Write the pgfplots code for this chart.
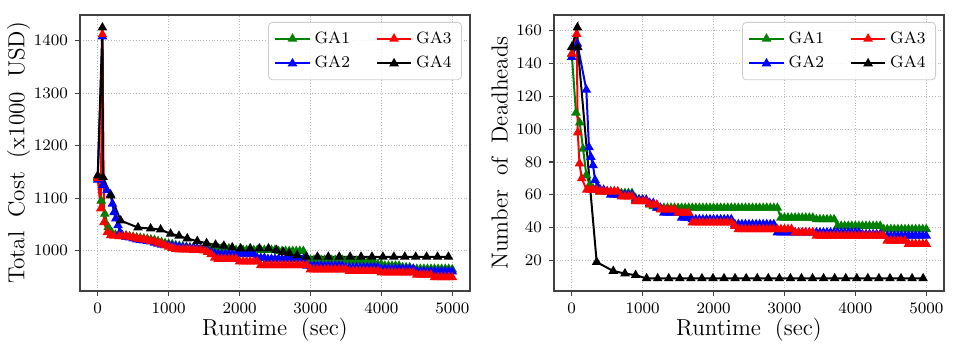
\documentclass[border=0pt]{standalone}
\usepackage{pgfplots}
\usepackage{pgfplotstable}
\pgfplotsset{compat=1.18}

\definecolor{gagreen}{RGB}{0,128,0}
\definecolor{gablue}{RGB}{0,0,255}
\definecolor{gared}{RGB}{255,0,0}

% GA1-GA3 from 400 s on (a=GA1, b=GA2, c=GA3)
\pgfplotstableread{
t a b c
400 1028 1026 1027
450 1027 1025 1026
500 1026 1023 1025
550 1025 1021 1023
600 1024 1020 1022
650 1023 1019 1021
700 1022 1018 1020
750 1021 1017 1018
800 1020 1015 1017
850 1018 1013 1015
900 1016 1011 1013
950 1014 1010 1010
1000 1013 1010 1007
1050 1012 1009 1005
1100 1010 1008 1003
1150 1009 1007 1002
1200 1008 1006 1002
1250 1007 1006 1002
1300 1006 1005 1002
1350 1006 1005 1001
1400 1005 1004 1001
1450 1004 1003 1001
1500 1004 1002 1000
1550 1004 1000 997
1600 1004 997 993
1650 1004 994 986
1700 1004 993 984
1750 1004 993 984
1800 1004 993 984
1850 1004 993 984
1900 1004 993 984
1950 1001 993 984
2000 1001 993 979
2050 1001 993 979
2100 1001 993 979
2150 1001 993 979
2200 1001 993 979
2250 1001 986 979
2300 1001 986 972
2350 1001 986 972
2400 1001 984 972
2450 1001 984 972
2500 1001 984 972
2550 999 984 972
2600 999 984 972
2650 999 984 972
2700 999 984 972
2750 999 984 972
2800 999 984 972
2850 999 984 972
2900 999 984 972
2950 983 971 972
3000 982 971 964
3050 982 971 964
3100 982 971 964
3150 982 971 964
3200 982 971 964
3250 982 971 964
3300 982 971 964
3350 982 971 964
3400 982 971 964
3450 982 971 964
3500 980 968 964
3550 980 968 961
3600 980 968 961
3650 980 968 961
3700 980 968 961
3750 977 968 961
3800 977 968 961
3850 977 968 961
3900 977 968 961
3950 974 968 961
4000 974 965 958
4050 971 965 958
4100 971 965 958
4150 971 965 958
4200 971 965 958
4250 971 965 958
4300 968 965 958
4350 968 965 958
4400 968 965 958
4450 965 965 958
4500 965 960 954
4550 965 960 954
4600 965 960 954
4650 965 960 954
4700 965 960 954
4750 965 960 949
4800 965 960 949
4850 965 960 949
4900 965 960 949
4950 965 960 949
5000 964 960 949
}\costtab

\pgfplotstableread{
t a b c
400 62 63 62
450 62 63 62
500 62 62 62
550 62 60 62
600 62 60 62
650 61 60 62
700 61 60 59
750 61 60 59
800 61 60 59
850 61 60 59
900 58 57 56
950 57 57 56
1000 57 57 56
1050 56 57 56
1100 54 55 54
1150 53 55 54
1200 52 52 54
1250 52 52 51
1300 52 49 51
1350 52 49 51
1400 52 49 51
1450 52 49 51
1500 52 49 49
1550 52 46 49
1600 52 46 49
1650 52 46 49
1700 52 45 43
1750 52 45 43
1800 52 45 43
1850 52 45 43
1900 52 45 43
1950 52 45 43
2000 52 45 43
2050 52 45 43
2100 52 45 43
2150 52 45 43
2200 52 45 43
2250 52 45 43
2300 52 42 41
2350 52 42 39
2400 52 42 39
2450 52 42 39
2500 52 42 39
2550 52 42 39
2600 52 42 39
2650 52 42 39
2700 52 42 39
2750 52 42 39
2800 52 42 39
2850 52 42 39
2900 52 37 39
2950 46 37 39
3000 46 37 39
3050 46 37 39
3100 46 37 39
3150 46 37 37
3200 46 37 37
3250 46 37 37
3300 46 37 37
3350 46 37 37
3400 46 37 37
3450 45 37 35
3500 45 37 35
3550 45 37 35
3600 45 37 35
3650 45 37 35
3700 45 37 35
3750 41 37 35
3800 41 37 35
3850 41 37 35
3900 41 37 35
3950 41 37 35
4000 41 37 35
4050 41 37 35
4100 41 36 35
4150 41 36 35
4200 41 36 35
4250 41 36 35
4300 41 36 35
4350 41 36 35
4400 39 35 35
4450 39 35 32
4500 39 35 32
4550 39 35 32
4600 39 35 32
4650 39 35 32
4700 39 35 32
4750 39 35 30
4800 39 35 30
4850 39 35 30
4900 39 35 30
4950 39 35 30
5000 39 35 30
}\deadtab

\pgfplotsset{
  ga/.style={line width=1pt, mark=triangle*, mark size=1.8pt, mark options={solid}},
  ga1/.style={ga, color=gagreen},
  ga2/.style={ga, color=gablue},
  ga3/.style={ga, color=gared},
  ga4/.style={ga, color=black},
  panel/.style={
    scale only axis, width=195pt, height=138pt,
    xmin=-250, xmax=5250,
    xtick={0,1000,2000,3000,4000,5000},
    tick pos=left, tick align=outside, major tick length=2.5pt,
    tick style={black!75, line width=0.6pt},
    axis line style={draw=black!75, line width=0.9pt},
    grid=major, grid style={densely dotted, gray!55, line width=0.5pt},
    tick label style={font=\fontsize{8.4}{9}\selectfont},
    label style={font=\fontsize{11.6}{13}\selectfont},
    xlabel style={at={(axis description cs:0.5,-0.1413)}, anchor=center},
    /pgf/number format/1000 sep={},
    scaled ticks=false,
    legend columns=2,
    legend cell align=left,
    legend style={at={(1,1)}, anchor=north east, xshift=-4pt, yshift=-3.5pt,
      draw=black!20, rounded corners=2pt, fill=white, fill opacity=0.8, text opacity=1,
      font=\fontsize{8.2}{9}\selectfont, inner xsep=3pt, inner ysep=2.5pt,
      row sep=1pt,
      /tikz/every even column/.append style={column sep=11pt}},
  },
}

\newcommand{\wsp}{\hspace{0.6em}}

\begin{document}
\begin{tikzpicture}
\begin{axis}[panel, name=L,
  ymin=923, ymax=1449,
  ytick={1000,1100,1200,1300,1400},
  xlabel={Runtime\wsp(sec)},
  ylabel={Total\wsp Cost\wsp(x1000\wsp USD)},
  ylabel style={at={(axis description cs:-0.1577,0.5)}, anchor=center},
]
\addlegendimage{ga1}\addlegendentry{GA1}
\addlegendimage{ga3}\addlegendentry{GA3}
\addlegendimage{ga2}\addlegendentry{GA2}
\addlegendimage{ga4}\addlegendentry{GA4}
% GA1
\addplot[ga1, forget plot] coordinates {(0,1140) (50,1095) (100,1070) (150,1045) (200,1034) (250,1030) (300,1029) (350,1028) (400,1028)};
\addplot[ga1, forget plot] table[x=t, y=a] {\costtab};
% GA2
\addplot[ga2, forget plot] coordinates {(0,1135) (66,1408) (75,1125) (130,1115) (180,1107) (207,1089) (230,1073) (254,1061) (286,1048) (314,1035) (348,1029) (400,1026)};
\addplot[ga2, forget plot] table[x=t, y=b] {\costtab};
% GA3
\addplot[ga3, forget plot] coordinates {(0,1138) (42,1080) (66,1412) (89,1054) (136,1035) (183,1029) (230,1028) (300,1027) (350,1027) (400,1027)};
\addplot[ga3, forget plot] table[x=t, y=c] {\costtab};
% GA4
\addplot[ga4, forget plot] coordinates {
(0,1143) (66,1425) (75,1140) (183,1105) (324,1057) (568,1044) (746,1042) (887,1040)
(1028,1032) (1146,1028) (1263,1023) (1404,1018) (1535,1014) (1662,1011) (1779,1009)
(1897,1006) (2015,1004) (2150,1004) (2280,1004) (2408,1004) (2520,1001) (2615,997)
(2700,995) (2812,991) (2944,988) (3098,988) (3252,988) (3406,988) (3560,988) (3714,988)
(3868,988) (4022,988) (4176,988) (4330,988) (4484,988) (4638,988) (4792,988) (4946,988)};
\end{axis}

\begin{axis}[panel, name=R, at={(237pt,0pt)},
  ymin=1.35, ymax=169.65,
  ytick={20,40,60,80,100,120,140,160},
  xlabel={Runtime\wsp(sec)},
  ylabel={Number\wsp of\wsp Deadheads},
  ylabel style={at={(axis description cs:-0.1397,0.5)}, anchor=center},
]
\addlegendimage{ga1}\addlegendentry{GA1}
\addlegendimage{ga3}\addlegendentry{GA3}
\addlegendimage{ga2}\addlegendentry{GA2}
\addlegendimage{ga4}\addlegendentry{GA4}
% GA1
\addplot[ga1, forget plot] coordinates {(0,146) (60,110) (113,104) (160,88) (206,72) (253,66) (300,64) (350,63) (400,62)};
\addplot[ga1, forget plot] table[x=t, y=a] {\deadtab};
% GA2
\addplot[ga2, forget plot] coordinates {(0,144) (80,152) (206,124) (243,89) (270,83) (300,78) (329,69) (365,65) (400,63)};
\addplot[ga2, forget plot] table[x=t, y=b] {\deadtab};
% GA3
\addplot[ga3, forget plot] coordinates {(0,146) (70,158) (85,98) (110,79) (141,70) (211,63) (260,63) (300,63) (350,63) (400,62)};
\addplot[ga3, forget plot] table[x=t, y=c] {\deadtab};
% GA4
\addplot[ga4, forget plot] coordinates {
(0,150) (80,162) (85,150) (352,19) (586,13.5) (751,12) (901,11) (1056,9) (1212,9) (1368,9)
(1524,9) (1680,9) (1836,9) (1992,9) (2148,9) (2304,9) (2460,9) (2616,9) (2772,9) (2928,9)
(3084,9) (3240,9) (3396,9) (3552,9) (3708,9) (3864,9) (4020,9) (4176,9) (4332,9) (4488,9)
(4644,9) (4800,9) (4956,9)};
\end{axis}

\path (-40pt,-30pt) rectangle (438.5pt,145.5pt);
\end{tikzpicture}
\end{document}
